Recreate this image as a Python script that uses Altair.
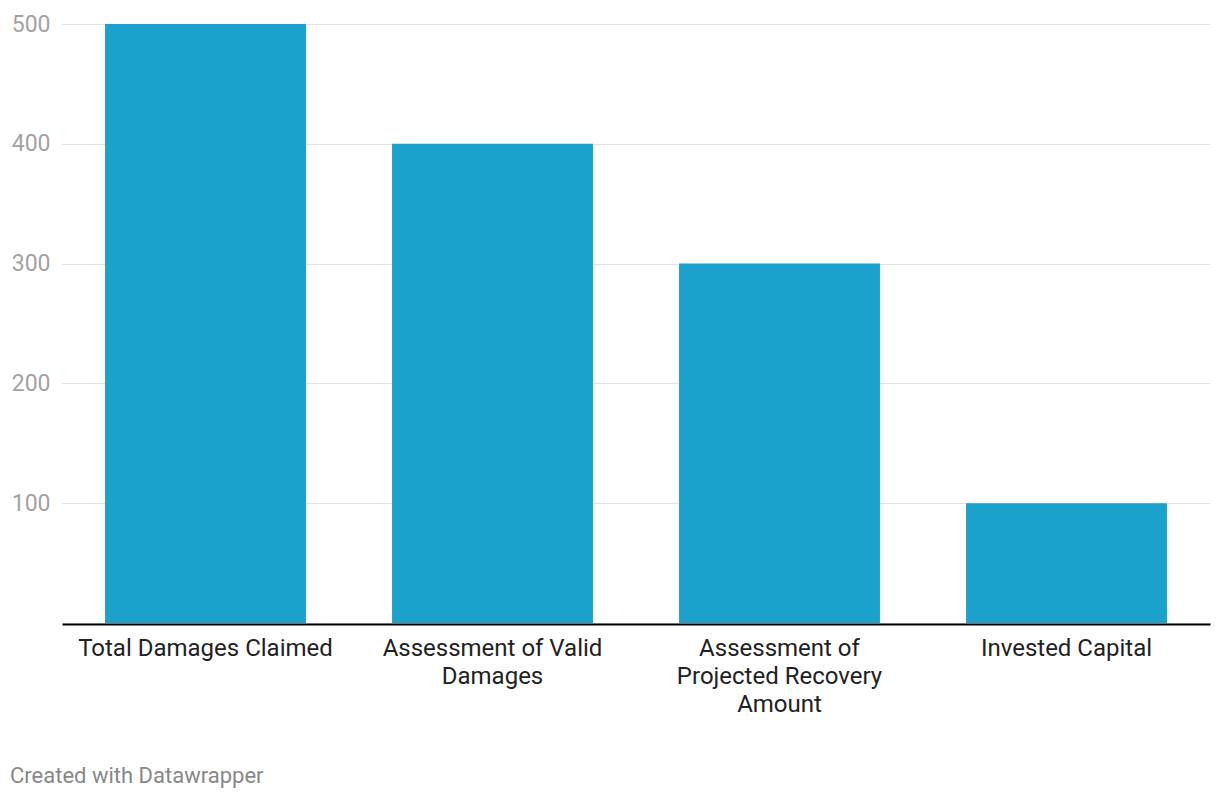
import altair as alt
import pandas as pd

categories = [
    "Total Damages Claimed",
    "Assessment of Valid\nDamages",
    "Assessment of\nProjected Recovery\nAmount",
    "Invested Capital",
]
values = [500, 400, 300, 100]
y_ticks = [0, 100, 200, 300, 400, 500]
credit = "Created with Datawrapper"

df = pd.DataFrame({"category": categories, "value": values})

bars = alt.Chart(df).mark_bar(color="#1aa1cc").encode(
    x=alt.X(
        "category:N",
        sort=categories,
        scale=alt.Scale(paddingInner=0.3, paddingOuter=0.15),
        axis=alt.Axis(
            title=None,
            labelAngle=0,
            labelFont="Roboto",
            labelFontSize=24,
            labelColor="#222222",
            labelLineHeight=28,
            labelPadding=12,
            labelLimit=0,
            labelExpr="split(datum.label, '\\n')",
            ticks=False,
            domain=True,
            domainColor="#000000",
            domainWidth=2,
            offset=1,
            grid=False,
        ),
    ),
    y=alt.Y(
        "value:Q",
        scale=alt.Scale(domain=[0, 500], nice=False),
        axis=alt.Axis(
            title=None,
            values=y_ticks,
            labelExpr="datum.value == 0 ? '' : datum.label",
            labelFont="Roboto",
            labelFontSize=23,
            labelColor="#a3a3a3",
            labelPadding=12,
            labelBaseline="middle",
            ticks=False,
            domain=False,
            grid=True,
            gridColor="#e2e2e2",
            gridWidth=1,
        ),
    ),
)

credit_df = pd.DataFrame({"t": [credit]})
credit_text = alt.Chart(credit_df).mark_text(
    align="left", baseline="middle", font="Roboto", fontSize=22, color="#888888"
).encode(text="t:N", x=alt.value(-52), y=alt.value(752))

chart = alt.layer(bars, credit_text).properties(
    width=1148,
    height=599,
    background="white",
    autosize=alt.AutoSizeParams(type="none"),
    padding={"left": 54, "top": 16, "right": 2, "bottom": 170},
).configure_view(strokeWidth=0)

chart.save("out.html", embed_options={"renderer": "svg", "actions": False})
